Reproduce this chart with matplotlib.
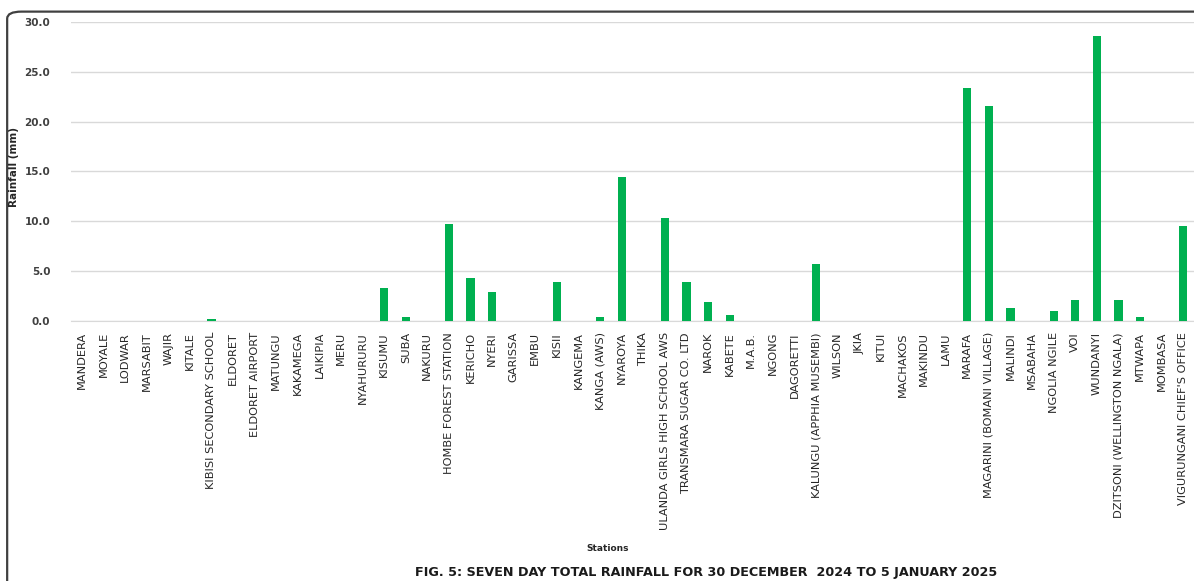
import matplotlib
matplotlib.use('Agg')
import matplotlib.pyplot as plt
from matplotlib.patches import FancyBboxPatch

stations = ["MANDERA", "MOYALE", "LODWAR", "MARSABIT", "WAJIR", "KITALE",
            "KIBISI SECONDARY SCHOOL", "ELDORET", "ELDORET AIRPORT", "MATUNGU",
            "KAKAMEGA", "LAIKIPIA", "MERU", "NYAHURURU", "KISUMU", "SUBA",
            "NAKURU", "HOMBE FOREST STATION", "KERICHO", "NYERI", "GARISSA",
            "EMBU", "KISII", "KANGEMA", "KANGA (AWS)", "NYAROYA", "THIKA",
            "ULANDA GIRLS HIGH SCHOOL AWS", "TRANSMARA SUGAR CO. LTD", "NAROK",
            "KABETE", "M.A.B.", "NGONG", "DAGORETTI", "KALUNGU (APPHIA MUSEMBI)",
            "WILSON", "JKIA", "KITUI", "MACHAKOS", "MAKINDU", "LAMU", "MARAFA",
            "MAGARINI (BOMANI VILLAGE)", "MALINDI", "MSABAHA", "NGOLIA NGILE",
            "VOI", "WUNDANYI", "DZITSONI (WELLINGTON NGALA)", "MTWAPA",
            "MOMBASA", "VIGURUNGANI CHIEF'S OFFICE"]

rainfall = [0, 0, 0, 0, 0, 0,
            0.2, 0, 0, 0,
            0, 0, 0, 0, 3.3, 0.4,
            0, 9.7, 4.3, 2.9, 0,
            0, 3.9, 0, 0.4, 14.4, 0,
            10.3, 3.9, 1.9,
            0.6, 0, 0, 0, 5.7,
            0, 0, 0, 0, 0, 0, 23.4,
            21.6, 1.3, 0, 1.0,
            2.1, 28.6, 2.1, 0.4,
            0, 9.5]

yticks = [0, 5, 10, 15, 20, 25, 30]

fig = plt.figure(figsize=(11.94, 5.81), dpi=100)
ax = fig.add_axes([0.0595, 0.4475, 0.9405, 0.515])

x = range(len(stations))
ax.bar(x, rainfall, width=0.38, color="#00B050", zorder=3)

ax.set_xlim(-0.5, len(stations) - 0.5)
ax.set_ylim(0, 30)
ax.set_yticks(yticks)
ax.set_yticklabels(["%.1f" % v for v in yticks], fontsize=7.5, fontweight="bold", color="#404040")
ax.set_xticks(list(x))
ax.set_xticklabels(stations, rotation=90, fontsize=8.2, color="#262626", va="top")
ax.tick_params(axis="both", length=0)
ax.tick_params(axis="x", pad=8)
ax.tick_params(axis="y", pad=15)

ax.grid(axis="y", color="#d9d9d9", linewidth=1, zorder=0)
for s in ["top", "right", "left"]:
    ax.spines[s].set_visible(False)
ax.spines["bottom"].set_color("#d9d9d9")

fig.text(0.012, 0.713, "Rainfall (mm)", rotation=90, fontsize=7.5, fontweight="bold",
         ha="center", va="center", color="#262626")
fig.text(0.509, 0.056, "Stations", fontsize=6.5, fontweight="bold",
         ha="center", va="center", color="#262626")
fig.text(0.591, 0.014, "FIG. 5: SEVEN DAY TOTAL RAINFALL FOR 30 DECEMBER  2024 TO 5 JANUARY 2025",
         fontsize=9.2, fontweight="bold", ha="center", va="center", color="#1a1a1a")

# outer frame, only the top-left corner shows
frame = FancyBboxPatch((0.006, -0.1), 1.2, 1.08, transform=fig.transFigure,
                       boxstyle="round,pad=0,rounding_size=0.012",
                       facecolor="none", edgecolor="#404040", linewidth=1.6)
fig.patches.append(frame)

fig.savefig("out.png", dpi=100)
